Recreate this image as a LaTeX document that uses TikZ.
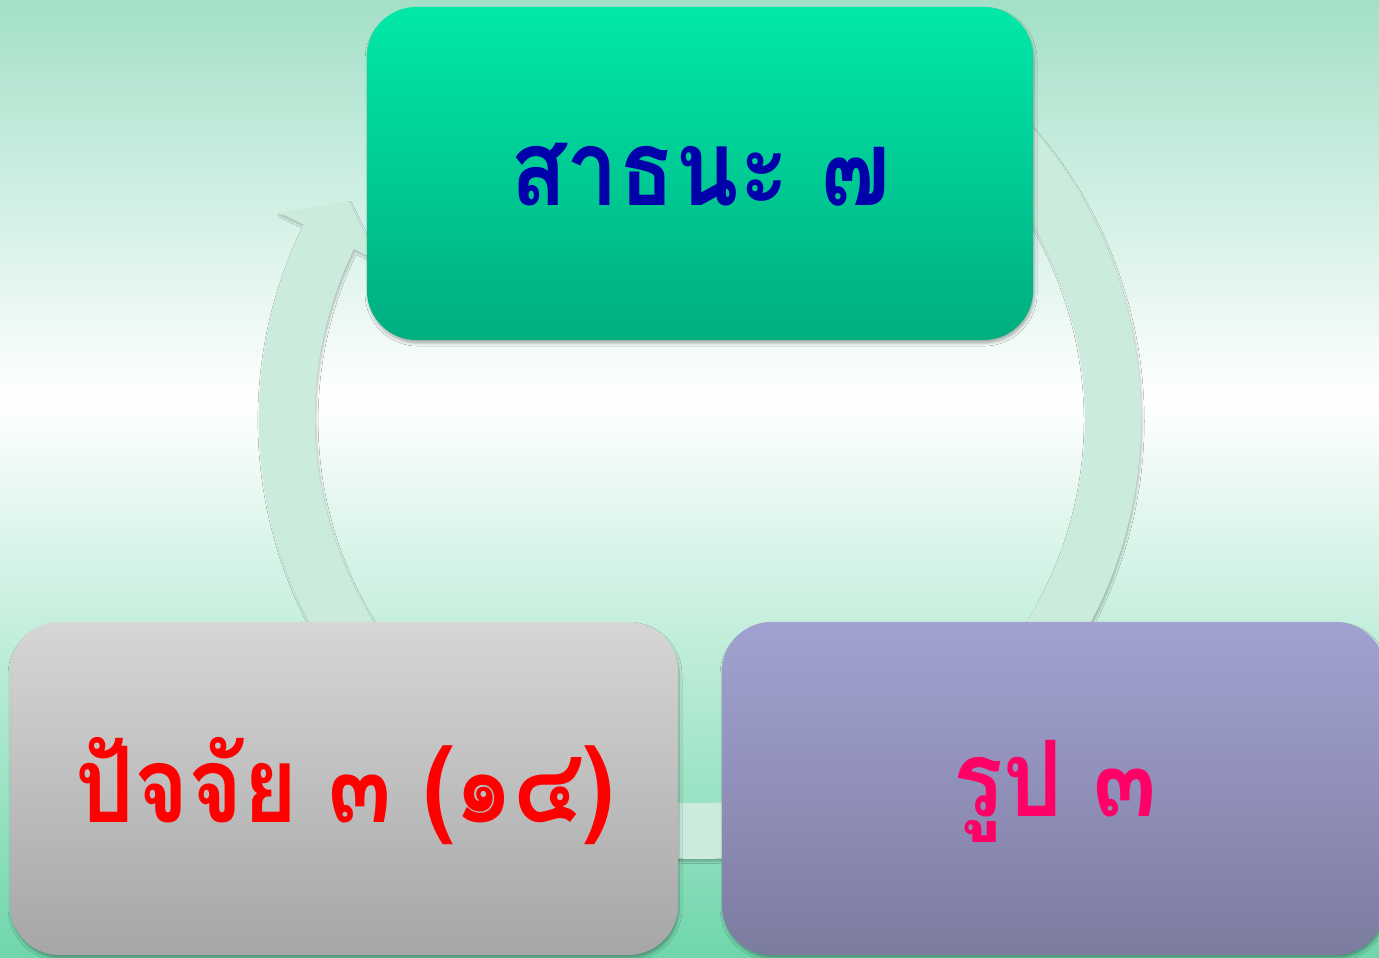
\documentclass[tikz,border=0pt]{standalone}
\usepackage{fontspec}
\newfontfamily\thaifont[Script=Thai,FakeStretch=0.88]{Loma}
\usetikzlibrary{shadows.blur}
\definecolor{bgtop}{RGB}{163,224,200}
\definecolor{bgbot}{RGB}{112,214,172}
\definecolor{ringc}{RGB}{203,235,221}
\definecolor{gtop}{RGB}{0,232,168}
\definecolor{gbot}{RGB}{0,174,128}
\definecolor{stop}{RGB}{214,214,214}
\definecolor{sbot}{RGB}{166,166,166}
\definecolor{ptop}{RGB}{162,162,210}
\definecolor{pbot}{RGB}{124,124,160}
\definecolor{tblue}{RGB}{0,0,170}
\definecolor{tred}{RGB}{255,0,0}
\definecolor{tpink}{RGB}{255,0,102}
\begin{document}
\begin{tikzpicture}[x=0.01cm,y=0.01cm,
  box/.style={rounded corners=0.5cm, inner sep=0pt,
    blur shadow={shadow xshift=0.3pt, shadow yshift=-0.9pt, shadow blur radius=0.8pt, shadow opacity=30}},
  label/.style={font=\thaifont\bfseries\fontsize{30}{36}\selectfont}]
\useasboundingbox (0,0) rectangle (1379,957);
\clip (0,0) rectangle (1379,957);
% background
\shade[top color=bgtop, bottom color=white] (0,957) rectangle (1379,557);
\shade[top color=white, bottom color=bgbot] (0,557.5) rectangle (1379,0);
% cycle ring with arrow
\begin{scope}[shift={(700,539)}]
\fill[ringc, blur shadow={shadow xshift=0.3pt, shadow yshift=-0.7pt, shadow blur radius=0.6pt, shadow opacity=25}]
  (60:441) arc[start angle=60, end angle=-206, radius=441]
  -- (154:468) -- (148.3:413) -- (154:358) -- (154:385)
  arc[start angle=-206, end angle=60, radius=385] -- cycle;
\end{scope}
% boxes
\node[box, top color=gtop, bottom color=gbot, minimum width=6.66cm, minimum height=3.33cm] (sat) at (700,783.5) {};
\node[box, top color=stop, bottom color=sbot, minimum width=6.68cm, minimum height=3.33cm] (pac) at (344,168.5) {};
\node[box, top color=ptop, bottom color=pbot, minimum width=6.63cm, minimum height=3.33cm] (rup) at (1053.5,168.5) {};
% texts
\node[label, text=tblue] (satt) at (700,782) {สาธนะ ๗};
\node[label, text=tred] (pact) at (345,166) {ปัจจัย ๓ (๑๔)};
\node[label, text=tpink] (rupt) at (1055,166) {รูป ๓};
\end{tikzpicture}
\end{document}
